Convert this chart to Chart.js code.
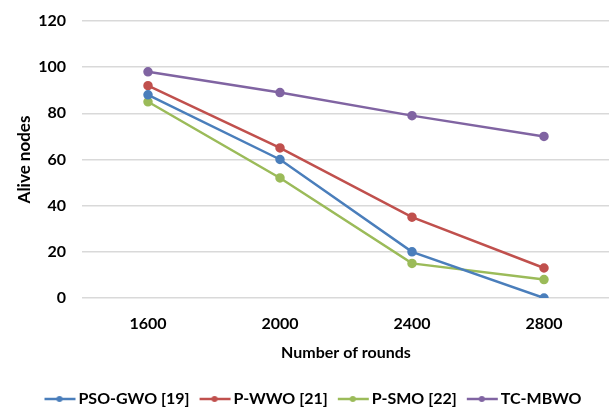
<!DOCTYPE html>
<html>
<head>
<meta charset="utf-8">
<script src="https://cdn.jsdelivr.net/npm/chart.js@4/dist/chart.umd.min.js"></script>
<style>
  html, body { margin: 0; padding: 0; background: #fff; overflow: hidden; }
  #wrap { width: 616px; height: 413px; }
</style>
</head>
<body>
<div id="wrap"><canvas id="chart"></canvas></div>
<script>
// chart data
const rounds = ['1600', '2000', '2400', '2800'];
const psoGwo = [88, 60, 20, 0];
const pWwo = [92, 65, 35, 13];
const pSmo = [85, 52, 15, 8];
const tcMbwo = [98, 89, 79, 70];
const seriesNames = ['PSO-GWO [19]', 'P-WWO [21]', 'P-SMO [22]', 'TC-MBWO'];
const seriesColors = ['#4a7ebb', '#c0504d', '#9bbb59', '#8064a2'];

const FONT = 'Lato, "Open Sans", sans-serif';

// line+dot marker for the legend, shifted right so it sits close to the text
function legendMarker(color){
  const c = document.createElement('canvas');
  c.width = 40; c.height = 10;
  const g = c.getContext('2d');
  g.strokeStyle = color; g.lineWidth = 2.5;
  g.beginPath(); g.moveTo(7, 5); g.lineTo(38, 5); g.stroke();
  g.fillStyle = color;
  g.beginPath(); g.arc(22, 5, 3, 0, Math.PI*2); g.fill();
  return c;
}

const datasets = [psoGwo, pWwo, pSmo, tcMbwo].map((vals, i) => ({
  label: seriesNames[i],
  data: vals,
  borderColor: seriesColors[i],
  backgroundColor: seriesColors[i],
  borderWidth: 2.5,
  pointRadius: 3.5,
  pointHoverRadius: 3.5,
  pointStyle: 'circle',
  tension: 0
}));

new Chart(document.getElementById('chart'), {
  type: 'line',
  data: { labels: rounds, datasets },
  options: {
    responsive: true,
    maintainAspectRatio: false,
    animation: false,
    layout: { padding: { left: 10, top: 21, right: 0, bottom: -4 } },
    plugins: {
      tooltip: { enabled: false },
      legend: {
        position: 'bottom',
        labels: {
          color: '#000',
          font: { family: FONT, size: 16, weight: 'bold' },
          usePointStyle: true,
          pointStyleWidth: 26,
          padding: 10,
          generateLabels: chart => chart.data.datasets.map((ds, i) => ({
            text: ds.label,
            pointStyle: legendMarker(ds.borderColor),
            fillStyle: ds.borderColor,
            strokeStyle: ds.borderColor,
            lineWidth: 0,
            fontColor: '#000',
            datasetIndex: i
          }))
        }
      }
    },
    scales: {
      x: {
        offset: true,
        grid: { display: false },
        border: { display: false },
        ticks: { color: '#000', font: { family: FONT, size: 16, weight: 'bold' }, padding: 8 },
        title: { display: true, text: 'Number of rounds', color: '#000', font: { family: FONT, size: 16, weight: 'bold' }, padding: { top: 6, bottom: 19 } },
        afterFit: s => { s.height = 83; }
      },
      y: {
        min: 0, max: 120,
        grid: { color: '#d9d9d9', lineWidth: 1.5, drawTicks: false },
        border: { display: false },
        ticks: { stepSize: 20, color: '#000', font: { family: FONT, size: 16, weight: 'bold' }, padding: 16 },
        title: { display: true, text: 'Alive nodes', color: '#000', font: { family: FONT, size: 17, weight: 'bold' }, padding: { bottom: 4 } },
        afterFit: s => { s.width = 72; s.paddingTop = 0; }
      }
    }
  }
});
</script>
</body>
</html>
